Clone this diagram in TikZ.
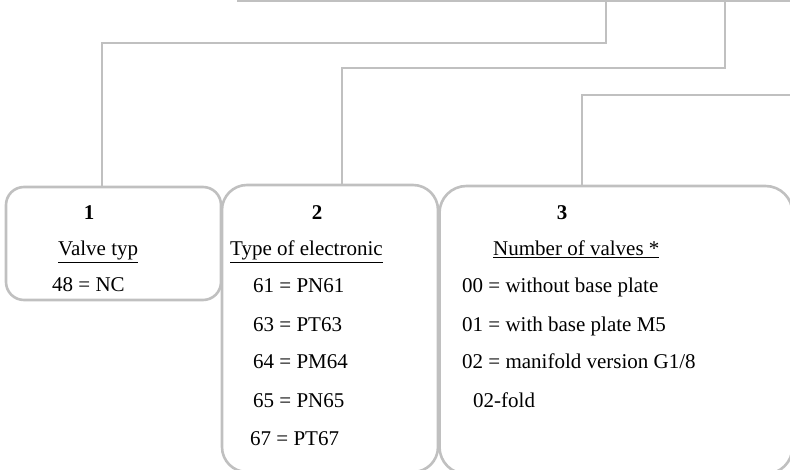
\documentclass[tikz,border=0pt]{standalone}
\usepackage{fontspec}
\setmainfont{Liberation Serif}
\usetikzlibrary{positioning}
\definecolor{boxgray}{HTML}{C0C0C0}

\begin{document}
\begin{tikzpicture}
  [
    x=1pt, y=-1pt,
    box/.style =
      {draw=boxgray, line width=2.6pt, inner sep=0pt},
    link/.style =
      {draw=boxgray, line width=2.4pt},
    txt/.style =
      {anchor=base west, inner sep=0pt, font=\fontsize{21}{25}\selectfont},
    hdr/.style =
      {anchor=base, inner sep=0pt, font=\fontsize{21}{25}\selectfont\bfseries}
  ]

\useasboundingbox (0,0) rectangle (790,470);
\clip (0,0) rectangle (790,470);

% boxes
\node[box, minimum width=900pt, minimum height=60pt, anchor=south west] (top) at (237,2) {};
\node[box, rounded corners=18pt, minimum width=215pt, minimum height=113pt] (one) at (113.5,243.5) {};
\node[box, rounded corners=25pt, minimum width=216pt, minimum height=287pt] (two) at (330,328.5) {};
\node[box, rounded corners=27pt, minimum width=353pt, minimum height=288pt] (three) at (616,330) {};

% connectors
\coordinate (d1) at (606,43);
\coordinate (d2) at (725,68);
\coordinate (d3) at (582,95);
\draw[link] (d1 |- top.south) -- (d1) -| ([xshift=-11.5pt]one.north);
\draw[link] (d2 |- top.south) -- (d2) -| ([xshift=12pt]two.north);
\draw[link] (three.north -| 800,0) |- (d3) -- (d3 |- three.north);

% box 1
\node[hdr] (h1) at (89,220) {1};
\node[txt] (t1) at (58,256) {\underline{Valve typ}};
\node[txt] (a1) at (52,292) {48 = NC};

% box 2
\node[hdr] (h2) at (317,220) {2};
\node[txt] (t2) at (230,256) {\underline{Type of electronic}};
\node[txt] (a2) at (253,293) {61 = PN61};
\node[txt] (b2) at (253,331) {63 = PT63};
\node[txt] (c2) at (253,369) {64 = PM64};
\node[txt] (e2) at (253,407) {65 = PN65};
\node[txt] (f2) at (250,445) {67 = PT67};

% box 3
\node[hdr] (h3) at (562,220) {3};
\node[txt] (t3) at (493,256) {\underline{Number of valves *}};
\node[txt] (a3) at (462,293) {00 = without base plate};
\node[txt] (b3) at (462,331) {01 = with base plate M5};
\node[txt] (c3) at (462,369) {02 = manifold version G1/8};
\node[txt] (e3) at (473,407) {02-fold};

\end{tikzpicture}
\end{document}
